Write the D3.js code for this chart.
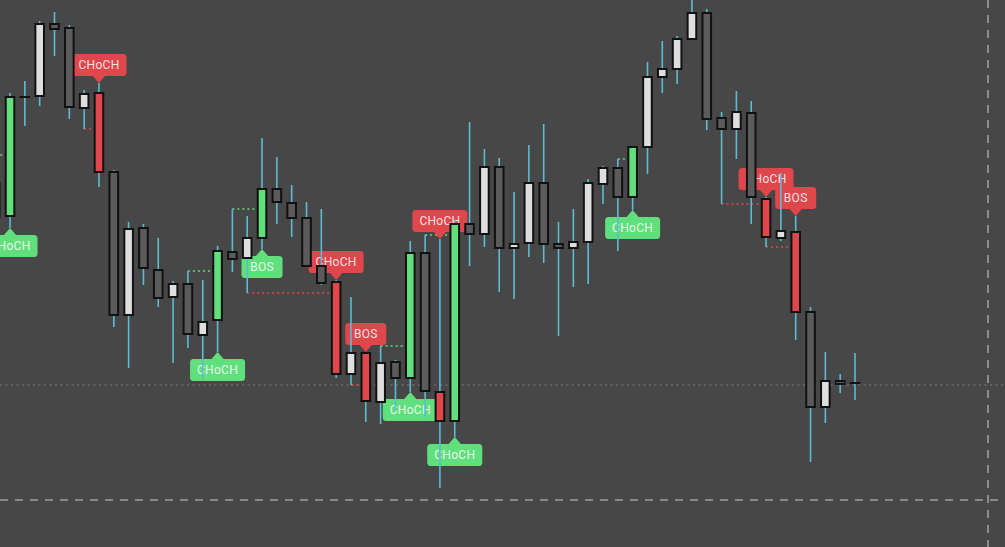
<!DOCTYPE html>
<html><head><meta charset="utf-8">
<script src="https://cdn.jsdelivr.net/npm/d3@7"></script>
<style>html,body{margin:0;padding:0;background:#474747;overflow:hidden}</style>
</head><body><svg id="c" width="1005" height="547"></svg>
<script>
// OHLC per candle (price units)
const opens  = [417,384,503,504,576,572,492,507,428,285,372,330,303,316,265,280,348,342,362,411,397,382,334,318,226,247,198,238,222,347,208,179,376,366,433,352,357,417,356,352,358,416,432,403,453,523,531,561,587,482,471,487,401,362,368,288,193,219,217];
const highs  = [445,507,519,579,588,575,510,517,430,378,376,362,319,329,320,354,391,384,462,443,415,398,391,320,303,248,254,240,359,365,361,380,478,451,442,408,455,476,378,391,421,434,441,454,538,559,564,605,591,488,509,499,403,427,384,293,248,226,247];
const lows   = [370,372,474,494,544,481,471,413,273,232,315,293,237,252,221,248,328,307,351,376,363,333,315,222,215,178,176,190,208,183,112,163,334,353,308,301,343,337,264,313,316,396,349,390,426,507,516,560,470,396,441,376,353,359,260,138,177,207,200];
const closes = [383,503,503,576,571,493,506,428,285,371,332,302,316,266,278,349,341,362,411,398,382,334,317,226,247,199,237,222,347,209,179,376,366,433,352,356,417,356,352,358,417,432,403,453,523,531,561,587,481,471,488,403,363,369,288,193,219,216,217];

// Structure signals
const sigIndex  = [1,7,15,18,23,25,28,30,31,43,52,54];
const sigText   = ["CHoCH","CHoCH","CHoCH","BOS","CHoCH","BOS","CHoCH","CHoCH","CHoCH","CHoCH","CHoCH","BOS"];
const sigDir    = ["bull","bear","bull","bull","bear","bear","bull","bear","bull","bull","bear","bear"];
const sigFrom   = [0,6,13,16,17,24,26,27,29,42,49,52];
const sigLevel  = [445,471,329,391,307,215,254,190,365,441,396,353];

const lastPrice = 215;
const crossPrice = 100;
const crossX = 988;

const W = 1005, H = 547;
const svg = d3.select("#c");
const x = d3.scaleLinear().domain([0, 58]).range([-4.8, 855]);
const y = d3.scaleLinear().domain([53, 600]).range([H, 0]);

const C = {bg:"#474747", light:"#dedede", dark:"#5b5b5b", green:"#62df7d", red:"#e0474d", wick:"#5bbcd4", outline:"#111"};
svg.append("rect").attr("width",W).attr("height",H).attr("fill",C.bg);

const candles = opens.map((o,i)=>({i, o, h:highs[i], l:lows[i], c:closes[i]}));
const sigMap = {};
sigIndex.forEach((idx,k)=>sigMap[idx]=k);

// last price dotted line
svg.append("line").attr("x1",0).attr("x2",W).attr("y1",y(lastPrice)).attr("y2",y(lastPrice))
  .attr("stroke","#6c6c6c").attr("stroke-width",1.5).attr("stroke-dasharray","2,3.5");

// signal level lines
svg.append("g").selectAll("line").data(sigIndex.map((d,k)=>k)).join("line")
  .attr("x1",k=>x(sigFrom[k])).attr("x2",k=>x(sigIndex[k])-5)
  .attr("y1",k=>y(sigLevel[k])).attr("y2",k=>y(sigLevel[k]))
  .attr("stroke",k=>sigDir[k]==="bull"?C.green:C.red)
  .attr("stroke-width",1.5).attr("stroke-dasharray","2,3");

// labels
const lg = svg.append("g");
sigIndex.forEach((idx,k)=>{
  const cx = x(idx);
  const bull = sigDir[k]==="bull";
  const tip = bull ? y(lows[idx]) : y(highs[idx]);
  const bw = sigText[k]==="BOS" ? 41 : 55, bh = 22, ph = 7, pw = 6.5;
  const top = bull ? tip + ph : tip - ph - bh;
  const col = bull ? C.green : C.red;
  lg.append("rect").attr("x",cx-bw/2).attr("y",top).attr("width",bw).attr("height",bh)
    .attr("rx",3.5).attr("fill",col);
  const base = bull ? tip+ph+0.5 : tip-ph-0.5;
  lg.append("path").attr("d",`M${cx-pw},${base}L${cx},${tip}L${cx+pw},${base}Z`).attr("fill",col);
  lg.append("text").attr("x",cx).attr("y",top+bh/2).attr("dy","0.36em")
    .attr("text-anchor","middle").attr("font-family","Roboto, 'Liberation Sans', sans-serif")
    .attr("font-size",12).attr("letter-spacing",0.3)
    .attr("fill","rgba(255,255,255,0.85)").text(sigText[k]);
});

// wicks
svg.append("g").selectAll("line").data(candles).join("line")
  .attr("x1",d=>x(d.i)).attr("x2",d=>x(d.i))
  .attr("y1",d=>y(d.h)).attr("y2",d=>y(d.l))
  .attr("stroke",C.wick).attr("stroke-width",1.6);

// bodies
const bw = 8.6;
svg.append("g").selectAll("rect").data(candles).join("rect")
  .attr("x",d=>x(d.i)-bw/2).attr("width",bw)
  .attr("y",d=>y(Math.max(d.o,d.c)))
  .attr("height",d=>Math.max(0.01, Math.abs(y(d.o)-y(d.c))))
  .attr("fill",d=>{
    const k = sigMap[d.i];
    if (k!==undefined) return sigDir[k]==="bull"?C.green:C.red;
    return d.c>d.o ? C.light : C.dark;
  })
  .attr("stroke",C.outline).attr("stroke-width",2);

// crosshair
svg.append("line").attr("x1",0).attr("x2",W).attr("y1",y(crossPrice)).attr("y2",y(crossPrice))
  .attr("stroke","#9e9e9e").attr("stroke-width",1.6).attr("stroke-dasharray","8,7");
svg.append("line").attr("x1",crossX).attr("x2",crossX).attr("y1",0).attr("y2",H)
  .attr("stroke","#9e9e9e").attr("stroke-width",1.6).attr("stroke-dasharray","8,7");
</script></body></html>
